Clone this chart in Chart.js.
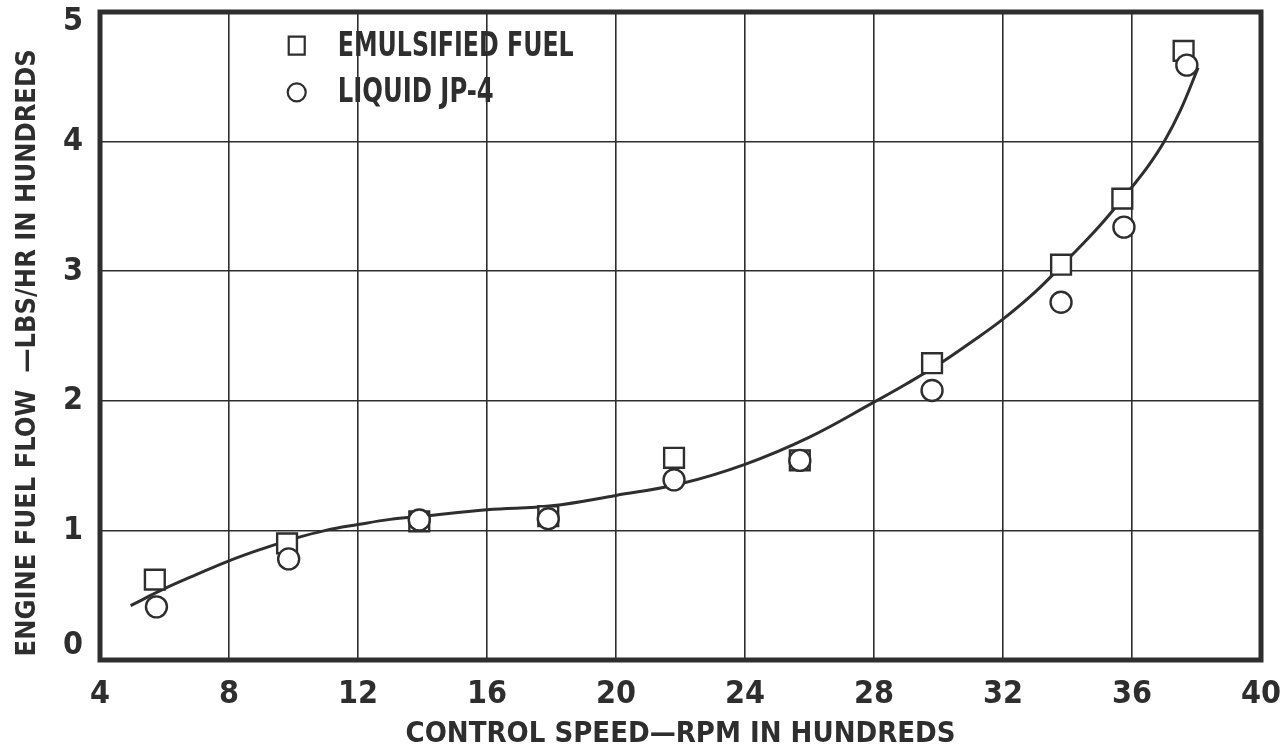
<!DOCTYPE html>
<html>
<head>
<meta charset="utf-8">
<title>Engine fuel flow vs control speed</title>
<script src="https://cdn.jsdelivr.net/npm/chart.js@4.4.1/dist/chart.umd.min.js"></script>
<style>
  html, body { margin: 0; padding: 0; background: #fff; }
  #wrap { width: 1281px; height: 752px; }
</style>
</head>
<body>
<div id="wrap"><canvas id="fuelChart" width="1281" height="752"></canvas></div>
<script>
// Data (speed in hundreds of rpm, flow in hundreds of lbs/hr)
const emulsifiedSpeed = [5.7, 9.8, 13.9, 17.9, 21.8, 25.7, 29.8, 33.8, 35.7, 37.6];
const emulsifiedFlow  = [0.62, 0.90, 1.07, 1.11, 1.56, 1.54, 2.29, 3.05, 3.56, 4.70];
const jp4Speed = [5.75, 9.85, 13.9, 17.9, 21.8, 25.7, 29.8, 33.8, 35.75, 37.7];
const jp4Flow  = [0.41, 0.78, 1.08, 1.09, 1.39, 1.54, 2.08, 2.76, 3.34, 4.59];

// faired curve through the points
const curveSpeed = [4.95, 6, 7, 8, 9, 10, 11, 12, 13, 14, 16, 18, 20, 22, 24, 26, 28, 29, 30, 31, 32, 33, 34, 35, 36, 36.5, 37, 37.5, 38.05];
const curveFlow  = [0.42, 0.55, 0.66, 0.765, 0.855, 0.935, 1.0, 1.045, 1.085, 1.11, 1.16, 1.19, 1.27, 1.36, 1.51, 1.72, 1.99, 2.13, 2.28, 2.45, 2.63, 2.84, 3.09, 3.35, 3.65, 3.81, 4.00, 4.24, 4.57];

const xTicks = [4, 8, 12, 16, 20, 24, 28, 32, 36, 40];
const yTicks = [0, 1, 2, 3, 4, 5];

const INK = '#2e2e2e';
const FONT = '"DejaVu Sans Condensed", "DejaVu Sans", sans-serif';

const toPoints = (xs, ys) => xs.map((x, i) => ({ x: x, y: ys[i] }));

// keep the plot area where the reference has it
const noLabelPadding = s => {
    s.paddingLeft = s.paddingRight = s.paddingTop = s.paddingBottom = 0;
};

// the end labels on the y axis sit inside the frame, as in the original
const nudgeEndLabels = s => {
    if (s._nudged) return;
    s._nudged = true;
    const orig = s._computeLabelItems.bind(s);
    s._computeLabelItems = area => {
        const items = orig(area);
        items.forEach(it => {
            if (it.label === '5') it.options.translation[1] += 10;
            if (it.label === '0') it.options.translation[1] -= 14;
        });
        return items;
    };
};

// heavy frame round the plot area
const framePlugin = {
    id: 'frame',
    beforeDatasetsDraw(chart) {
        const { ctx, chartArea: a } = chart;
        ctx.save();
        ctx.strokeStyle = INK;
        ctx.lineWidth = 5;
        ctx.strokeRect(a.left, a.top, a.right - a.left, a.bottom - a.top);
        ctx.restore();
    }
};

// legend sits inside the grid, upper left, narrow lettering
const legendPlugin = {
    id: 'insideLegend',
    afterDraw(chart) {
        const ctx = chart.ctx;
        const xs = chart.scales.x, ys = chart.scales.y;
        const mx = xs.getPixelForValue(10.1), tx = mx + 41;
        const rows = [
            { ds: chart.data.datasets[1], y: ys.getPixelForValue(4.74), w: 236 },
            { ds: chart.data.datasets[2], y: ys.getPixelForValue(4.38), w: 156 }
        ];
        ctx.save();
        rows.forEach(r => {
            ctx.strokeStyle = INK;
            ctx.lineWidth = 2.2;
            ctx.beginPath();
            if (r.ds.pointStyle === 'rect') {
                ctx.rect(mx - 8, r.y - 9, 16, 18);
            } else {
                ctx.arc(mx, r.y, 9, 0, Math.PI * 2);
            }
            ctx.stroke();
            ctx.fillStyle = INK;
            ctx.font = 'bold 34px ' + FONT;
            ctx.textBaseline = 'middle';
            ctx.textAlign = 'left';
            const k = r.w / ctx.measureText(r.ds.label).width;
            ctx.save();
            ctx.translate(tx, r.y + 1);
            ctx.scale(k, 1);
            ctx.fillText(r.ds.label, 0, 0);
            ctx.restore();
        });
        ctx.restore();
    }
};

function createFuelChart() {
    const ctx = document.getElementById('fuelChart').getContext('2d');
    new Chart(ctx, {
        type: 'scatter',
        data: {
            datasets: [
                {
                    type: 'line',
                    label: 'faired curve',
                    data: toPoints(curveSpeed, curveFlow),
                    borderColor: INK,
                    borderWidth: 3,
                    pointRadius: 0,
                    fill: false,
                    tension: 0.4,
                    order: 3
                },
                {
                    label: 'EMULSIFIED FUEL',
                    data: toPoints(emulsifiedSpeed, emulsifiedFlow),
                    pointStyle: 'rect',
                    pointRadius: 14,
                    pointBorderWidth: 2.4,
                    borderColor: INK,
                    backgroundColor: '#fff',
                    order: 2
                },
                {
                    label: 'LIQUID JP-4',
                    data: toPoints(jp4Speed, jp4Flow),
                    pointStyle: 'circle',
                    pointRadius: 10.5,
                    pointBorderWidth: 2.4,
                    borderColor: INK,
                    backgroundColor: '#fff',
                    order: 1
                }
            ]
        },
        options: {
            responsive: false,
            animation: false,
            events: [],
            layout: { autoPadding: false, padding: { top: 12, right: 20, left: 0, bottom: 0 } },
            plugins: {
                legend: { display: false },
                tooltip: { enabled: false }
            },
            scales: {
                x: {
                    type: 'linear',
                    min: 4,
                    max: 40,
                    afterBuildTicks: s => { s.ticks = xTicks.map(v => ({ value: v })); },
                    afterFit: s => { s.height = 92; noLabelPadding(s); },
                    grid: { color: INK, lineWidth: 1.6, drawTicks: false },
                    border: { display: false },
                    ticks: { color: INK, padding: 15, maxRotation: 0, font: { family: FONT, size: 32, weight: 'bold' } },
                    title: {
                        display: true,
                        text: 'CONTROL SPEED\u2014RPM IN HUNDREDS',
                        color: INK,
                        padding: { top: 0, bottom: 0 },
                        font: { family: FONT, size: 29, weight: 'bold' }
                    }
                },
                y: {
                    type: 'linear',
                    min: 0,
                    max: 5,
                    afterBuildTicks: s => { s.ticks = yTicks.map(v => ({ value: v })); },
                    afterFit: s => { s.width = 100; noLabelPadding(s); nudgeEndLabels(s); },
                    grid: { color: INK, lineWidth: 1.6, drawTicks: false },
                    border: { display: false },
                    ticks: { color: INK, padding: 17, font: { family: FONT, size: 32, weight: 'bold' } },
                    title: {
                        display: true,
                        text: 'ENGINE FUEL FLOW  \u2014LBS/HR IN HUNDREDS    ',
                        color: INK,
                        padding: { top: 12, bottom: 0 },
                        font: { family: FONT, size: 27, weight: 'bold' }
                    }
                }
            }
        },
        plugins: [framePlugin, legendPlugin]
    });
}

document.addEventListener('DOMContentLoaded', createFuelChart);
</script>
</body>
</html>
